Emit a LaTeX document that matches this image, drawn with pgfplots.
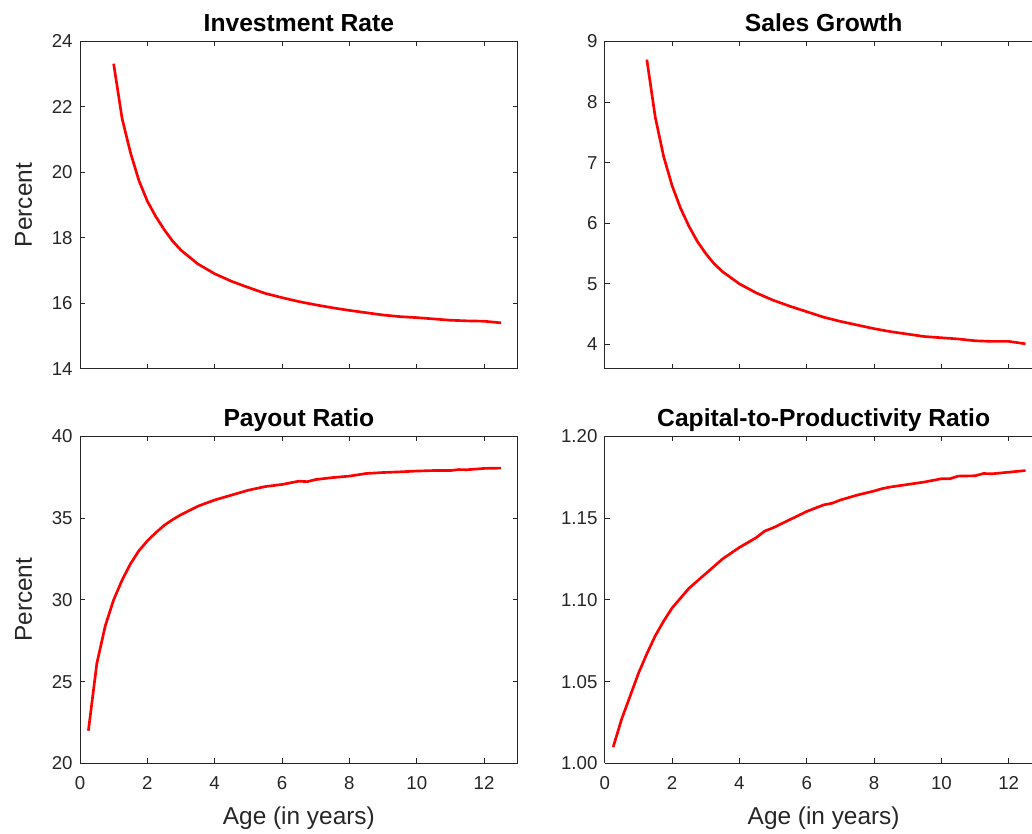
\documentclass[border=0pt]{standalone}
\usepackage{fontspec}
\setmainfont{Liberation Sans}
\usepackage{pgfplots}
\pgfplotsset{compat=1.18}
\definecolor{axgray}{HTML}{262626}
\pgfplotsset{
 myax/.style={
  scale only axis, width=328.5pt, height=245.5pt,
  xmin=0, xmax=13, xtick={0,2,4,6,8,10,12},
  axis line style={axgray, line width=0.6pt},
  every tick/.style={axgray, line width=0.6pt},
  major tick length=3.75pt, tick align=inside,
  minor tick num=0,
  ticklabel style={font=\fontsize{14}{14}\selectfont, text=axgray},
  xticklabel style={yshift=-6.5pt},
  yticklabel style={xshift=-2pt},
  /pgf/number format/assume math mode=true,
  every axis title/.style={at={(axis description cs:0.5,1)}, anchor=base, yshift=7.5pt,
     font=\bfseries\fontsize{18.5}{18.5}\selectfont, text=black},
  every axis x label/.style={at={(axis description cs:0.5,-0.186)}, anchor=base,
     font=\fontsize{18.3}{18.3}\selectfont, text=axgray},
  every axis y label/.style={at={(axis description cs:-0.1096,0.5)}, rotate=90, anchor=base,
     font=\fontsize{18.3}{18.3}\selectfont, text=axgray},
  anchor=south west,
 },
 rightax/.style={width=320.25pt, xmax=12.68, axis y line*=left,
   every axis title/.style={at={(axis description cs:0.5128,1)}, anchor=base, yshift=7.5pt,
     font=\bfseries\fontsize{18.5}{18.5}\selectfont, text=black},
   every axis x label/.style={at={(axis description cs:0.5128,-0.186)}, anchor=base,
     font=\fontsize{18.3}{18.3}\selectfont, text=axgray}},
 redline/.style={red, line width=2pt, no markers},
}
\begin{document}
\begin{tikzpicture}
\path (0,0) rectangle (774pt,624.75pt);
% Investment Rate
\begin{axis}[myax, at={(60pt,348.15pt)}, ymin=14, ymax=24, ytick={14,16,...,24},
  xticklabels={}, title={Investment Rate}, ylabel={Percent}]
\addplot[redline] coordinates {
(1.0,23.32) (1.25,21.65) (1.5,20.6) (1.75,19.75) (2.0,19.12) (2.25,18.65)
(2.5,18.25) (2.75,17.9) (3.0,17.62) (3.5,17.2) (4.0,16.9) (4.5,16.67)
(5.0,16.48) (5.5,16.3) (6.0,16.17) (6.5,16.05) (7.0,15.95) (7.5,15.86)
(8.0,15.78) (8.5,15.71) (9.0,15.64) (9.5,15.59) (10.0,15.56) (10.5,15.52)
(11.0,15.48) (11.5,15.46) (12.0,15.45) (12.5,15.40)};
\end{axis}
% Sales Growth
\begin{axis}[myax, rightax, at={(453.75pt,348.15pt)}, ymin=3.6, ymax=9, ytick={4,5,6,7,8,9},
  xticklabels={}, title={Sales Growth}]
\addplot[redline] coordinates {
(1.25,8.70) (1.5,7.75) (1.75,7.10) (2.0,6.62) (2.25,6.25) (2.5,5.95)
(2.75,5.70) (3.0,5.50) (3.25,5.33) (3.5,5.2) (4.0,5.0) (4.5,4.85)
(5.0,4.73) (5.5,4.63) (6.0,4.54) (6.5,4.45) (7.0,4.38) (7.5,4.32)
(8.0,4.26) (8.5,4.21) (9.0,4.17) (9.5,4.13) (10.0,4.11) (10.5,4.09)
(11.0,4.06) (11.5,4.05) (12.0,4.05) (12.5,4.01)};
\end{axis}
% Payout Ratio
\begin{axis}[myax, at={(60pt,51.98pt)}, ymin=20, ymax=40, ytick={20,25,...,40},
  title={Payout Ratio}, ylabel={Percent}, xlabel={Age (in years)}]
\addplot[redline] coordinates {
(0.25,22.0) (0.5,26.1) (0.75,28.4) (1.0,30.0) (1.25,31.2) (1.5,32.2)
(1.75,33.0) (2.0,33.6) (2.25,34.1) (2.5,34.55) (2.75,34.9) (3.0,35.2)
(3.5,35.72) (4.0,36.1) (4.5,36.4) (5.0,36.7) (5.5,36.92) (6.0,37.05)
(6.5,37.25) (6.75,37.22) (7.0,37.35) (7.5,37.47) (8.0,37.56) (8.5,37.72)
(9.0,37.78) (9.5,37.82) (10.0,37.87) (10.5,37.9) (11.0,37.9) (11.25,37.96)
(11.5,37.95) (12.0,38.03) (12.5,38.05)};
\end{axis}
% Capital-to-Productivity Ratio
\begin{axis}[myax, rightax, at={(453.75pt,51.98pt)}, ymin=1.0, ymax=1.2,
  ytick={1.00,1.05,1.10,1.15,1.20},
  yticklabel style={/pgf/number format/.cd, fixed, fixed zerofill, precision=2},
  title={Capital-to-Productivity Ratio}, xlabel={Age (in years)}]
\addplot[redline] coordinates {
(0.25,1.010) (0.5,1.027) (0.75,1.041) (1.0,1.055) (1.25,1.067) (1.5,1.078)
(1.75,1.087) (2.0,1.095) (2.5,1.107) (3.0,1.116) (3.5,1.125) (4.0,1.132)
(4.5,1.138) (4.75,1.142) (5.0,1.144) (5.5,1.149) (6.0,1.154) (6.5,1.158)
(6.75,1.159) (7.0,1.161) (7.5,1.164) (8.0,1.1665) (8.25,1.168) (8.5,1.169)
(9.0,1.1705) (9.5,1.172) (10.0,1.174) (10.25,1.174) (10.5,1.1756) (11.0,1.1758)
(11.25,1.1772) (11.5,1.177) (12.0,1.178) (12.5,1.179)};
\end{axis}
\end{tikzpicture}
\end{document}
